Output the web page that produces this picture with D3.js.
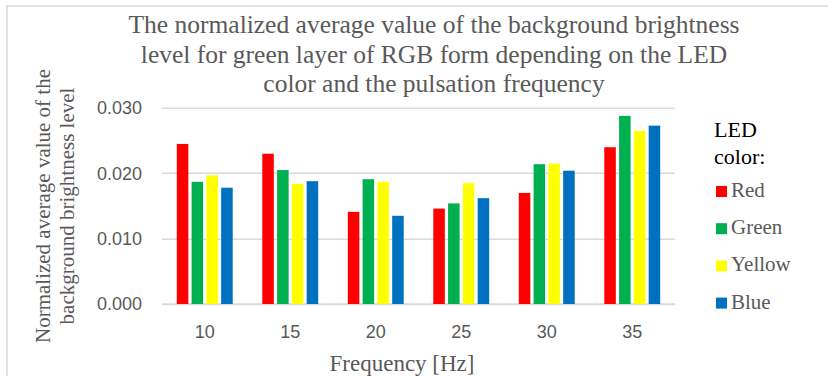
<!DOCTYPE html>
<html>
	<head>
		<script src="https://cdnjs.cloudflare.com/ajax/libs/d3/7.8.5/d3.min.js"></script>
		<title>Background brightness, green layer</title>
	</head>

	<style>
		body {
			margin: 0;
			background-color: #fff;
		}
		.tick-label {
			font-family: 'Liberation Sans', Arial, sans-serif;
			font-size: 18px;
			fill: #595959;
		}
	</style>

	<body>
		<svg></svg>
	</body>

	<script type="text/javascript">
		var frequencies = ['10', '15', '20', '25', '30', '35'];
		var ledColors = ['Red', 'Green', 'Yellow', 'Blue'];
		var barColors = ['#ff0000', '#00b050', '#ffff00', '#0070c0'];
		var yTicks = [0, 0.01, 0.02, 0.03];

		var red    = [0.0245, 0.0230, 0.0141, 0.0146, 0.0170, 0.0240];
		var green  = [0.0187, 0.0205, 0.0191, 0.0154, 0.0214, 0.0288];
		var yellow = [0.0197, 0.0184, 0.0187, 0.0185, 0.0215, 0.0265];
		var blue   = [0.0178, 0.0188, 0.0135, 0.0162, 0.0204, 0.0273];

		var titleLines = [
			'The normalized average value of the background brightness',
			'level for green layer of RGB form depending on the LED',
			'color and the pulsation frequency'
		];
		var yTitleLines = [
			'Normalized average value of the',
			'background brightness level'
		];

		var width = 828;
		var height = 376;
		var margin = { left: 162, right: 153, top: 108, bottom: 72 };
		var serif = "'Liberation Serif', Tinos, 'Times New Roman', Times, 'DejaVu Serif', serif";

		var svg = d3.select( 'svg' )
			.attr( 'width', width )
			.attr( 'height', height );

		// chart border (only top and left fall inside the picture)
		svg.append( 'rect' )
			.attr( 'x', 7 ).attr( 'y', 6 )
			.attr( 'width', 900 ).attr( 'height', 500 )
			.attr( 'fill', 'none' )
			.attr( 'stroke', '#d9d9d9' )
			.attr( 'stroke-width', 1.5 );

		var y = d3.scaleLinear()
			.domain( [0, 0.03] )
			.range( [height - margin.bottom, margin.top] );

		var x0 = d3.scaleBand()
			.domain( frequencies )
			.range( [margin.left, width - margin.right] );

		var x1 = d3.scaleBand()
			.domain( ledColors )
			.range( [x0.bandwidth() * 0.135, x0.bandwidth() * 0.865] )
			.padding( 0.22 );

		var color = d3.scaleOrdinal()
			.domain( ledColors )
			.range( barColors );

		// gridlines
		svg.append( 'g' )
			.selectAll( 'line' )
			.data( yTicks )
			.enter().append( 'line' )
				.attr( 'x1', margin.left )
				.attr( 'x2', width - margin.right )
				.attr( 'y1', function( d ) { return Math.round( y( d ) ) + 0.25; } )
				.attr( 'y2', function( d ) { return Math.round( y( d ) ) + 0.25; } )
				.attr( 'stroke', '#d9d9d9' )
				.attr( 'stroke-width', function( d ) { return d === 0 ? 2 : 1.5; } );

		// y tick labels
		svg.append( 'g' )
			.selectAll( 'text' )
			.data( yTicks )
			.enter().append( 'text' )
				.attr( 'class', 'tick-label' )
				.attr( 'x', 142 )
				.attr( 'y', function( d ) { return y( d ); } )
				.attr( 'dy', '0.35em' )
				.attr( 'text-anchor', 'end' )
				.text( function( d ) { return d.toFixed( 3 ); } );

		// bars
		var series = [red, green, yellow, blue];
		var rows = frequencies.map( function( f, i ) {
			return { freq: f, values: ledColors.map( function( c, j ) {
				return { led: c, value: series[j][i] };
			} ) };
		} );

		var groups = svg.append( 'g' )
			.selectAll( 'g' )
			.data( rows )
			.enter().append( 'g' )
				.attr( 'transform', function( d ) { return 'translate(' + x0( d.freq ) + ',0)'; } );

		groups.selectAll( 'rect' )
			.data( function( d ) { return d.values; } )
			.enter().append( 'rect' )
				.attr( 'x', function( d ) { return x1( d.led ); } )
				.attr( 'width', x1.bandwidth() )
				.attr( 'y', function( d ) { return y( d.value ); } )
				.attr( 'height', function( d ) { return y( 0 ) - y( d.value ); } )
				.attr( 'fill', function( d ) { return color( d.led ); } );

		// x tick labels
		svg.append( 'g' )
			.selectAll( 'text' )
			.data( frequencies )
			.enter().append( 'text' )
				.attr( 'class', 'tick-label' )
				.attr( 'x', function( d ) { return x0( d ) + x0.bandwidth() / 2; } )
				.attr( 'y', 338 )
				.attr( 'text-anchor', 'middle' )
				.text( function( d ) { return d; } );

		// title
		svg.append( 'text' )
			.attr( 'x', 434 )
			.attr( 'y', 33 )
			.attr( 'text-anchor', 'middle' )
			.attr( 'font-family', serif )
			.attr( 'font-size', 25.5 )
			.attr( 'fill', '#595959' )
			.selectAll( 'tspan' )
			.data( titleLines )
			.enter().append( 'tspan' )
				.attr( 'x', 434 )
				.attr( 'dy', function( d, i ) { return i === 0 ? 0 : 29.5; } )
				.text( function( d ) { return d; } );

		// x axis title
		svg.append( 'text' )
			.attr( 'x', 402 )
			.attr( 'y', 371 )
			.attr( 'text-anchor', 'middle' )
			.attr( 'font-family', serif )
			.attr( 'font-size', 23 )
			.attr( 'fill', '#595959' )
			.text( 'Frequency [Hz]' );

		// y axis title
		svg.append( 'text' )
			.attr( 'transform', 'translate(50,206) rotate(-90)' )
			.attr( 'text-anchor', 'middle' )
			.attr( 'font-family', serif )
			.attr( 'font-size', 21 )
			.attr( 'fill', '#595959' )
			.selectAll( 'tspan' )
			.data( yTitleLines )
			.enter().append( 'tspan' )
				.attr( 'x', 0 )
				.attr( 'dy', function( d, i ) { return i === 0 ? 0 : 24; } )
				.text( function( d ) { return d; } );

		// legend
		var legend = svg.append( 'g' )
			.attr( 'transform', 'translate(714,0)' );

		legend.append( 'text' )
			.attr( 'y', 137 )
			.attr( 'font-family', serif )
			.attr( 'font-size', 22 )
			.attr( 'fill', '#000' )
			.selectAll( 'tspan' )
			.data( ['LED', 'color:'] )
			.enter().append( 'tspan' )
				.attr( 'x', 0 )
				.attr( 'dy', function( d, i ) { return i === 0 ? 0 : 26.5; } )
				.text( function( d ) { return d; } );

		var items = legend.selectAll( 'g.item' )
			.data( ledColors )
			.enter().append( 'g' )
				.attr( 'class', 'item' )
				.attr( 'transform', function( d, i ) { return 'translate(0,' + ( 197 + i * 37.2 ) + ')'; } );

		items.append( 'rect' )
			.attr( 'x', 2 )
			.attr( 'y', -11 )
			.attr( 'width', 11 )
			.attr( 'height', 11 )
			.attr( 'fill', function( d ) { return color( d ); } );

		items.append( 'text' )
			.attr( 'x', 17 )
			.attr( 'font-family', serif )
			.attr( 'font-size', 21 )
			.attr( 'fill', '#595959' )
			.text( function( d ) { return d; } );
	</script>

</html>
